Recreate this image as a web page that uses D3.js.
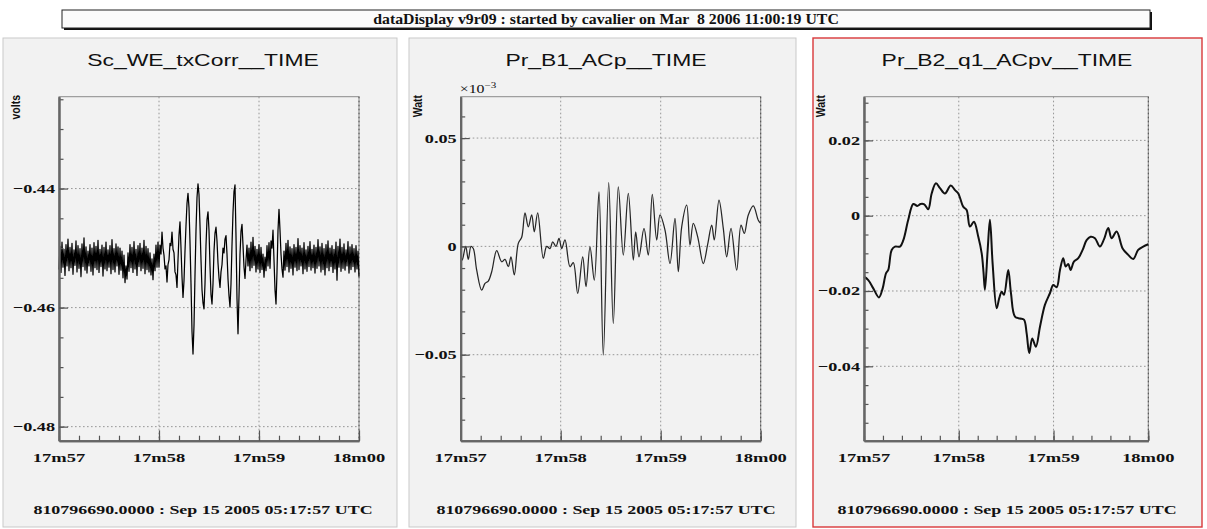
<!DOCTYPE html>
<html>
<head>
<meta charset="utf-8">
<script src="https://cdn.jsdelivr.net/npm/d3@7"></script>
<style>
  html, body { margin: 0; padding: 0; background: #ffffff; }
  svg { display: block; }
  text { white-space: pre; }
</style>
</head>
<body>
<svg id="display" width="1207" height="529"></svg>
<script>
// ---- data -----------------------------------------------------------------
const headerText = "dataDisplay v9r09 : started by cavalier on Mar  8 2006 11:00:19 UTC";
const startStamp = "810796690.0000 : Sep 15 2005 05:17:57 UTC";

// time axis: seconds after 17m57
const timeTickValues = [0, 1, 2, 3];
const timeTickLabels = ["17m57", "17m58", "17m59", "18m00"];

// Sc_WE_txCorr (volts), one sample every 0.01 s starting at 17m57
const txCorrVolts = [
  -0.4536,-0.4497,-0.4541,-0.4490,-0.4532,-0.4502,-0.4546,-0.4494,-0.4530,-0.4485,
  -0.4538,-0.4499,-0.4533,-0.4492,-0.4544,-0.4503,-0.4529,-0.4488,-0.4540,-0.4496,
  -0.4534,-0.4501,-0.4548,-0.4493,-0.4531,-0.4483,-0.4537,-0.4498,-0.4542,-0.4505,
  -0.4530,-0.4494,-0.4539,-0.4500,-0.4545,-0.4491,-0.4533,-0.4497,-0.4536,-0.4487,
  -0.4541,-0.4502,-0.4531,-0.4495,-0.4547,-0.4499,-0.4535,-0.4490,-0.4538,-0.4503,
  -0.4532,-0.4496,-0.4543,-0.4486,-0.4536,-0.4501,-0.4540,-0.4493,-0.4530,-0.4498,
  -0.4544,-0.4500,-0.4537,-0.4505,-0.4550,-0.4512,-0.4558,-0.4530,-0.4552,-0.4508,
  -0.4539,-0.4494,-0.4533,-0.4499,-0.4541,-0.4489,-0.4535,-0.4502,-0.4546,-0.4496,
  -0.4531,-0.4492,-0.4538,-0.4500,-0.4534,-0.4487,-0.4543,-0.4497,-0.4536,-0.4501,
  -0.4540,-0.4508,-0.4545,-0.4518,-0.4553,-0.4510,-0.4538,-0.4495,-0.4532,-0.4490,
  -0.4532,-0.4495,-0.4510,-0.4473,-0.4500,-0.4512,-0.4535,-0.4530,-0.4557,-0.4528,
  -0.4520,-0.4492,-0.4496,-0.4473,-0.4502,-0.4508,-0.4540,-0.4545,-0.4566,-0.4520,
  -0.4478,-0.4456,-0.4500,-0.4548,-0.4583,-0.4555,-0.4505,-0.4462,-0.4425,-0.4408,
  -0.4432,-0.4490,-0.4560,-0.4640,-0.4678,-0.4630,-0.4545,-0.4470,-0.4415,-0.4392,
  -0.4410,-0.4462,-0.4520,-0.4570,-0.4592,-0.4602,-0.4560,-0.4495,-0.4452,-0.4439,
  -0.4470,-0.4530,-0.4578,-0.4594,-0.4560,-0.4505,-0.4475,-0.4465,-0.4488,-0.4525,
  -0.4550,-0.4566,-0.4540,-0.4528,-0.4500,-0.4508,-0.4485,-0.4479,-0.4510,-0.4552,
  -0.4580,-0.4599,-0.4560,-0.4495,-0.4440,-0.4405,-0.4394,-0.4480,-0.4585,-0.4644,
  -0.4580,-0.4510,-0.4472,-0.4460,-0.4495,-0.4532,-0.4551,-0.4520,-0.4495,-0.4530,
  -0.4500,-0.4538,-0.4490,-0.4533,-0.4482,-0.4529,-0.4497,-0.4540,-0.4502,-0.4535,
  -0.4494,-0.4541,-0.4499,-0.4536,-0.4510,-0.4549,-0.4515,-0.4538,-0.4496,-0.4530,
  -0.4491,-0.4534,-0.4488,-0.4500,-0.4470,-0.4520,-0.4570,-0.4594,-0.4540,-0.4470,
  -0.4435,-0.4470,-0.4510,-0.4535,-0.4549,-0.4505,-0.4537,-0.4492,-0.4531,-0.4487,
  -0.4540,-0.4498,-0.4534,-0.4501,-0.4545,-0.4494,-0.4532,-0.4499,-0.4538,-0.4484,
  -0.4536,-0.4496,-0.4530,-0.4500,-0.4543,-0.4491,-0.4535,-0.4503,-0.4539,-0.4497,
  -0.4531,-0.4489,-0.4537,-0.4502,-0.4533,-0.4495,-0.4542,-0.4499,-0.4534,-0.4486,
  -0.4530,-0.4498,-0.4540,-0.4492,-0.4536,-0.4501,-0.4545,-0.4494,-0.4533,-0.4488,
  -0.4538,-0.4500,-0.4531,-0.4496,-0.4541,-0.4502,-0.4535,-0.4490,-0.4554,-0.4497,
  -0.4532,-0.4485,-0.4539,-0.4499,-0.4534,-0.4493,-0.4537,-0.4503,-0.4530,-0.4489,
  -0.4542,-0.4498,-0.4536,-0.4494,-0.4531,-0.4501,-0.4540,-0.4496,-0.4535,-0.4505,
  -0.4548
];
const txCorrTicks = [-0.48, -0.46, -0.44];
const txCorrTickLabels = ["\u22120.48", "\u22120.46", "\u22120.44"];

// Pr_B1_ACp (units of 10^-3 Watt): sample time (s after 17m57) and value
const acpTime = [
  0.000, 0.016, 0.050, 0.076, 0.103, 0.126, 0.160, 0.210, 0.243, 0.276,
  0.310, 0.360, 0.410, 0.443, 0.476, 0.503, 0.536, 0.576, 0.610, 0.643,
  0.676, 0.710, 0.736, 0.770, 0.826, 0.860, 0.893, 0.920, 0.953, 0.983,
  1.010, 1.043, 1.093, 1.126, 1.170, 1.220, 1.253, 1.293, 1.336, 1.383,
  1.426, 1.480, 1.526, 1.576, 1.626, 1.676, 1.726, 1.750, 1.783, 1.833,
  1.876, 1.916, 1.960, 1.993, 2.043, 2.093, 2.143, 2.176, 2.210, 2.260,
  2.293, 2.326, 2.370, 2.426, 2.470, 2.510, 2.536, 2.583, 2.626, 2.660,
  2.703, 2.760, 2.803, 2.836, 2.876, 2.926, 2.976, 3.000
];
const acpValue = [
  -0.0009, -0.0063, 0.0000, -0.0060, 0.0000, -0.0010, -0.0110, -0.0202, -0.0171, -0.0160,
  -0.0117, -0.0020, -0.0071, -0.0060, -0.0094, -0.0048, -0.0132, 0.0014, 0.0042, 0.0155,
  0.0090, 0.0145, 0.0067, 0.0155, -0.0055, 0.0000, -0.0010, 0.0021, 0.0000, 0.0037,
  -0.0010, 0.0030, -0.0094, -0.0075, -0.0217, -0.0048, -0.0186, -0.0002, -0.0156, 0.0252,
  -0.0502, 0.0294, -0.0356, 0.0275, -0.0040, 0.0245, -0.0063, 0.0067, -0.0048, 0.0083,
  -0.0040, 0.0240, 0.0029, 0.0145, 0.0075, -0.0079, 0.0129, -0.0117, 0.0090, 0.0190,
  0.0006, 0.0106, 0.0044, -0.0079, 0.0010, 0.0098, 0.0030, 0.0214, 0.0083, -0.0048,
  0.0083, -0.0110, 0.0098, 0.0060, 0.0145, 0.0187, 0.0121, 0.0106
];
const acpTicks = [-0.05, 0, 0.05];
const acpTickLabels = ["\u22120.05", "0", "0.05"];

// Pr_B2_q1_ACpv (Watt): sample time (s after 17m57) and value
const acpvTime = [
  0.000, 0.045, 0.098, 0.158, 0.197, 0.232, 0.256, 0.292, 0.327, 0.380,
  0.415, 0.467, 0.520, 0.562, 0.598, 0.636, 0.678, 0.714, 0.759, 0.802,
  0.854, 0.915, 0.960, 0.995, 1.047, 1.083, 1.118, 1.160, 1.206, 1.242,
  1.261, 1.276, 1.305, 1.329, 1.358, 1.400, 1.427, 1.453, 1.477, 1.522,
  1.551, 1.593, 1.646, 1.688, 1.716, 1.744, 1.775, 1.814, 1.857, 1.909,
  1.962, 1.997, 2.033, 2.068, 2.102, 2.128, 2.155, 2.180, 2.215, 2.261,
  2.307, 2.349, 2.391, 2.437, 2.489, 2.532, 2.577, 2.613, 2.666, 2.729,
  2.788, 2.841, 2.893, 2.946, 3.000
];
const acpvValue = [
  -0.0162, -0.0171, -0.0193, -0.0217, -0.0193, -0.0153, -0.0144, -0.0091, -0.0082, -0.0082,
  -0.0065, -0.0011, 0.0031, 0.0026, 0.0031, 0.0030, 0.0017, 0.0059, 0.0086, 0.0073,
  0.0059, 0.0080, 0.0068, 0.0059, 0.0024, 0.0015, -0.0029, -0.0016, -0.0056, -0.0100,
  -0.0150, -0.0197, -0.0091, -0.0011, -0.0130, -0.0246, -0.0219, -0.0202, -0.0210, -0.0144,
  -0.0206, -0.0268, -0.0273, -0.0276, -0.0312, -0.0365, -0.0326, -0.0348, -0.0295, -0.0237,
  -0.0206, -0.0184, -0.0190, -0.0144, -0.0113, -0.0135, -0.0128, -0.0144, -0.0122, -0.0113,
  -0.0091, -0.0065, -0.0056, -0.0060, -0.0082, -0.0063, -0.0033, -0.0060, -0.0042, -0.0087,
  -0.0104, -0.0115, -0.0091, -0.0082, -0.0076
];
const acpvTicks = [-0.04, -0.02, 0, 0.02];
const acpvTickLabels = ["\u22120.04", "\u22120.02", "0", "0.02"];

// ---- layout ---------------------------------------------------------------
const SX = 1.38;               // horizontal stretch applied to the lettering
const SERIF = "'Liberation Serif', 'Times New Roman', serif";
const SANS = "'Liberation Sans', Arial, sans-serif";

const panels = [
  {
    title: "Sc_WE_txCorr__TIME", unit: "volts", border: "#c9c9c9",
    box: [3, 38, 394, 489], center: 203, unitX: 20,
    x0: 59, x1: 359, y0: 96.7, y1: 440.7,
    yDomain: [-0.48236, -0.42457], minorStep: 0.005,
    majors: txCorrTicks, labels: txCorrTickLabels,
    series: txCorrVolts.map((v, i) => [i * 0.01, v]),
    curve: d3.curveLinear, stroke: "#000", width: 1.25
  },
  {
    title: "Pr_B1_ACp__TIME", unit: "Watt", border: "#c9c9c9",
    box: [409, 38, 387, 489], center: 606, unitX: 422, exponent: true,
    x0: 460.7, x1: 760.7, y0: 96.7, y1: 440.7,
    yDomain: [-0.0897, 0.0691], minorStep: 0.01,
    majors: acpTicks, labels: acpTickLabels,
    series: acpTime.map((t, i) => [t, acpValue[i]]),
    curve: d3.curveCatmullRom.alpha(0.5), stroke: "#262626", width: 1.25
  },
  {
    title: "Pr_B2_q1_ACpv__TIME", unit: "Watt", border: "#d9383a",
    box: [813, 38, 389, 489], center: 1007, unitX: 825,
    x0: 864, x1: 1148.3, y0: 96.7, y1: 440.7,
    yDomain: [-0.05976, 0.0316], minorStep: 0.005,
    majors: acpvTicks, labels: acpvTickLabels,
    series: acpvTime.map((t, i) => [t, acpvValue[i]]),
    curve: d3.curveCatmullRom.alpha(0.5), stroke: "#111", width: 2
  }
];

const svg = d3.select("#display");

function label(g, x, y, text, o) {
  return g.append("text")
    .attr("transform", `translate(${x},${y}) scale(${o.sx || SX},1)`)
    .attr("text-anchor", o.anchor || "middle")
    .attr("font-family", o.family || SERIF)
    .attr("font-weight", o.weight || "bold")
    .attr("font-size", o.size || 13)
    .attr("fill", o.fill || "#111")
    .text(text);
}

// ---- header bar -----------------------------------------------------------
svg.append("rect").attr("x", 64).attr("y", 12).attr("width", 1088).attr("height", 18).attr("fill", "#111");
svg.append("rect").attr("x", 62).attr("y", 10).attr("width", 1088).attr("height", 18)
  .attr("fill", "#fbfbfb").attr("stroke", "#222").attr("stroke-width", 1);
label(svg, 606, 24, headerText, { size: 14, sx: 1.13 });

// ---- panels ---------------------------------------------------------------
panels.forEach(p => {
  const g = svg.append("g");
  const [bx, by, bw, bh] = p.box;
  g.append("rect").attr("x", bx).attr("y", by).attr("width", bw).attr("height", bh)
    .attr("fill", "#f2f2f2").attr("stroke", p.border).attr("stroke-width", p.border === "#c9c9c9" ? 1 : 1.4);

  const x = d3.scaleLinear().domain([0, 3]).range([p.x0, p.x1]);
  const y = d3.scaleLinear().domain(p.yDomain).range([p.y1, p.y0]);

  // frame
  g.append("rect").attr("x", p.x0).attr("y", p.y0).attr("width", p.x1 - p.x0).attr("height", p.y1 - p.y0)
    .attr("fill", "none").attr("stroke", "#8a8a8a").attr("stroke-width", 1);

  // dotted grid at major divisions
  const grid = g.append("g").attr("stroke", "#8c8c8c").attr("stroke-width", 0.9).attr("stroke-dasharray", "1.6,2.4");
  grid.selectAll("line.gx").data(timeTickValues.slice(1)).join("line")
    .attr("x1", d => x(d)).attr("x2", d => x(d)).attr("y1", p.y0).attr("y2", p.y1)
    .attr("stroke", (d, i, a) => i === a.length - 1 ? "#444" : null);
  grid.selectAll("line.gy").data(p.majors).join("line")
    .attr("x1", p.x0).attr("x2", p.x1).attr("y1", d => y(d)).attr("y2", d => y(d));

  // trace
  g.append("path").datum(p.series)
    .attr("fill", "none").attr("stroke", p.stroke).attr("stroke-width", p.width)
    .attr("stroke-linejoin", "round")
    .attr("d", d3.line().curve(p.curve).x(d => x(d[0])).y(d => y(d[1])));

  // ticks drawn inside the frame
  const lo = Math.ceil(p.yDomain[0] / p.minorStep - 1e-6), hi = Math.floor(p.yDomain[1] / p.minorStep + 1e-6);
  const yMinor = d3.range(lo, hi + 1).map(k => +(k * p.minorStep).toFixed(4));
  const xMinor = d3.range(0, 16).map(k => +(k * 0.2).toFixed(2));

  const styleAxis = sel => {
    sel.selectAll("text").remove();
    sel.selectAll(".tick line").attr("stroke", "#555").attr("stroke-width", 1.2);
    sel.select(".domain").attr("stroke", "#666").attr("stroke-width", 2);
  };
  g.append("g").attr("transform", `translate(0,${p.y1})`)
    .call(d3.axisBottom(x).tickValues(xMinor).tickSizeInner(-5).tickSizeOuter(0).tickFormat("")).call(styleAxis);
  g.append("g").attr("transform", `translate(0,${p.y1})`)
    .call(d3.axisBottom(x).tickValues(timeTickValues).tickSizeInner(-10.3).tickSizeOuter(0).tickFormat("")).call(styleAxis);
  g.append("g").attr("transform", `translate(${p.x0},0)`)
    .call(d3.axisLeft(y).tickValues(yMinor).tickSizeInner(-4.5).tickSizeOuter(0).tickFormat("")).call(styleAxis);
  g.append("g").attr("transform", `translate(${p.x0},0)`)
    .call(d3.axisLeft(y).tickValues(p.majors).tickSizeInner(-9).tickSizeOuter(0).tickFormat("")).call(styleAxis);

  // tick labels
  p.majors.forEach((v, i) => label(g, p.x0 - 4, y(v) + 4.5, p.labels[i], { anchor: "end", size: 13.2 }));
  timeTickValues.forEach((t, i) => label(g, x(t), 462, timeTickLabels[i], { size: 13.4 }));

  // title, unit and start time
  label(g, p.center, 65.5, p.title, { family: SANS, weight: "normal", size: 16.6 });
  g.append("text")
    .attr("transform", `translate(${p.unitX},95) scale(1.25,1) rotate(-90)`)
    .attr("text-anchor", "end")
    .attr("font-family", SANS).attr("font-weight", "bold").attr("font-size", 10.5)
    .attr("fill", "#111").text(p.unit);
  if (p.exponent) {
    const e = g.append("text")
      .attr("transform", `translate(${p.x0 - 1},93) scale(${SX},1)`)
      .attr("font-family", SERIF).attr("font-size", 11.5).attr("fill", "#111");
    e.append("tspan").text("\u00d710");
    e.append("tspan").attr("dy", -5).attr("font-size", 8).text("\u22123");
  }
  label(g, p.center, 514, startStamp, { size: 13 });
});
</script>
</body>
</html>
